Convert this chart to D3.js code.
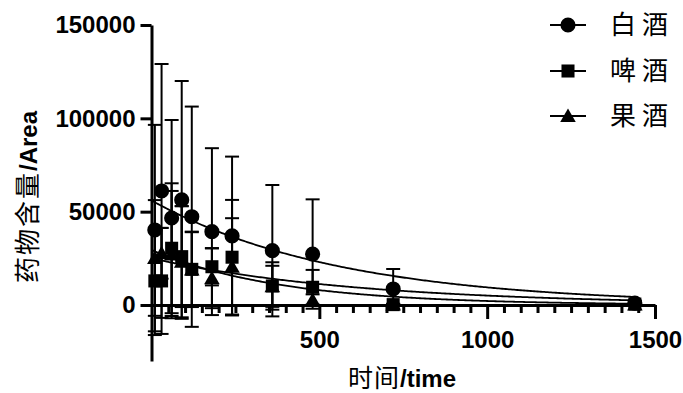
<!DOCTYPE html>
<html>
<head>
<meta charset="utf-8">
<script src="https://cdn.jsdelivr.net/npm/d3@7"></script>
<style>
  body { margin: 0; background: #fff; }
  svg { display: block; }
</style>
</head>
<body>
<div id="chart"></div>
<script>
// sampling times (x) and series values
const times = [10, 30, 60, 90, 120, 180, 240, 360, 480, 720, 1440];

const baijiuMean = [40200, 61100, 46600, 56300, 47300, 39300, 37000, 29100, 27300, 8600, 1000];
const baijiuSD = [56300, 68000, 52500, 63700, 59000, 44700, 42500, 35200, 29300, 10700, 1000];

const pijiuMean = [12900, 12900, 30400, 25900, 19100, 20500, 25600, 10200, 9500, 200, 500];
const pijiuSD = [27000, 28400, 34800, 27000, 20200, 10000, 30700, 12700, 9300, 500, 500];

const guojiuMean = [25200, 27700, 27000, 23200, 19000, 14300, 20500, 10000, 2700, 200, 300];
const guojiuSD = [31000, 13600, 34100, 29800, 20000, 16000, 26000, 11000, 3000, 300, 300];

// one-phase decay fits: Y0, K
const fitY0 = [56000, 25000, 29500];
const fitK = [0.00178, 0.0016, 0.00262];

const seriesNames = ["白酒", "啤酒", "果酒"];
const yTicks = [0, 50000, 100000, 150000];
const xTicks = [500, 1000, 1500];

const width = 683, height = 393;
const svg = d3.select("#chart").append("svg")
  .attr("width", width)
  .attr("height", height);

const x = d3.scaleLinear().domain([0, 1500]).range([151.5, 655]);
const y = d3.scaleLinear().domain([-30000, 150000]).range([361, 25]);

const series = [
  { name: seriesNames[0], mean: baijiuMean, sd: baijiuSD, shape: d3.symbolCircle, size: 180 },
  { name: seriesNames[1], mean: pijiuMean, sd: pijiuSD, shape: d3.symbolSquare, size: 170 },
  { name: seriesNames[2], mean: guojiuMean, sd: guojiuSD, shape: d3.symbolTriangle, size: 105 },
].map((s, i) => ({
  ...s,
  y0: fitY0[i],
  k: fitK[i],
  points: times.map((t, j) => ({ t, v: s.mean[j], sd: s.sd[j] })),
}));

const font = "'Liberation Sans', Arial, sans-serif";
const cjk = "'Noto Sans CJK SC', sans-serif";

// Error bars
const capW = 7;
series.forEach((s) => {
  const g = svg.append("g").attr("stroke", "#000").attr("stroke-width", 2);
  s.points.forEach((d) => {
    const px = x(d.t);
    const hi = y(d.v + d.sd), lo = y(d.v - d.sd);
    g.append("line").attr("x1", px).attr("x2", px).attr("y1", hi).attr("y2", lo);
    g.append("line").attr("x1", px - capW).attr("x2", px + capW).attr("y1", hi).attr("y2", hi);
    g.append("line").attr("x1", px - capW).attr("x2", px + capW).attr("y1", lo).attr("y2", lo);
  });
});

// Fitted curves
series.forEach((s) => {
  const ts = d3.range(0, 1441, 5);
  const line = d3.line()
    .x((t) => x(t))
    .y((t) => y(s.y0 * Math.exp(-s.k * t)));
  svg.append("path")
    .datum(ts)
    .attr("fill", "none")
    .attr("stroke", "#000")
    .attr("stroke-width", 1.8)
    .attr("d", line);
});

// Markers
series.forEach((s) => {
  const sym = d3.symbol().type(s.shape).size(s.size);
  svg.append("g")
    .selectAll("path")
    .data(s.points)
    .join("path")
    .attr("transform", (d) => `translate(${x(d.t)},${y(d.v) + (s.shape === d3.symbolTriangle ? 1.5 : 0)})`)
    .attr("d", sym)
    .attr("fill", "#000");
});

// Y axis
const yAxis = d3.axisLeft(y).tickValues(yTicks).tickSize(11).tickPadding(5)
  .tickSizeOuter(0).tickFormat(d3.format("d"));
const gy = svg.append("g").attr("transform", `translate(${x(0)},0)`).call(yAxis);
gy.select(".domain").attr("stroke-width", 3);
gy.selectAll(".tick line").attr("stroke-width", 3);
gy.selectAll(".tick text")
  .attr("font-family", font)
  .attr("font-weight", "bold")
  .attr("font-size", 24)
  .attr("fill", "#000");

// X axis: minor ticks
const minorTicks = d3.range(50, 1500, 50).filter((t) => t % 500 !== 0);
const gxm = svg.append("g").attr("transform", `translate(0,${y(0)})`)
  .call(d3.axisBottom(x).tickValues(minorTicks).tickSize(8).tickFormat(""));
gxm.select(".domain").remove();
gxm.selectAll(".tick line").attr("stroke-width", 3);

// X axis: major ticks
const xAxis = d3.axisBottom(x).tickValues(xTicks).tickSize(14).tickPadding(12)
  .tickSizeOuter(0).tickFormat(d3.format("d"));
const gx = svg.append("g").attr("transform", `translate(0,${y(0)})`).call(xAxis);
gx.select(".domain").attr("stroke-width", 3);
gx.selectAll(".tick line").attr("stroke-width", 3);
gx.selectAll(".tick text")
  .attr("font-family", font)
  .attr("font-weight", "bold")
  .attr("font-size", 24)
  .attr("fill", "#000");

// Axis titles
const xt = svg.append("text")
  .attr("x", 402)
  .attr("y", 387)
  .attr("text-anchor", "middle")
  .attr("fill", "#000");
xt.append("tspan").attr("font-family", cjk).attr("font-size", 25).attr("letter-spacing", 1).text("时间");
xt.append("tspan").attr("font-family", font).attr("font-size", 24).attr("font-weight", "bold").text("/time");

const yt = svg.append("text")
  .attr("transform", "translate(37,197) rotate(-90)")
  .attr("text-anchor", "middle")
  .attr("fill", "#000");
yt.append("tspan").attr("font-family", cjk).attr("font-size", 26).attr("letter-spacing", 2).text("药物含量");
yt.append("tspan").attr("font-family", font).attr("font-size", 24).attr("font-weight", "bold").text("/Area");

// Legend
const legendY = [25, 71, 116];
const legend = svg.append("g");
series.forEach((s, i) => {
  const g = legend.append("g").attr("transform", `translate(568,${legendY[i]})`);
  g.append("line").attr("x1", -18).attr("x2", 18).attr("stroke", "#000").attr("stroke-width", 2);
  g.append("path")
    .attr("d", d3.symbol().type(s.shape).size(s.size)())
    .attr("transform", s.shape === d3.symbolTriangle ? "translate(0,1.5)" : null)
    .attr("fill", "#000");
  g.append("text")
    .attr("x", 42)
    .attr("y", 9)
    .attr("font-family", cjk)
    .attr("font-size", 26)
    .attr("letter-spacing", 6)
    .attr("fill", "#000")
    .text(s.name);
});
</script>
</body>
</html>
